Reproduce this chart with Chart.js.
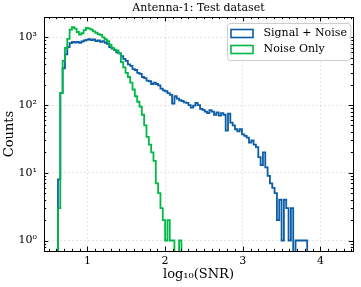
<!DOCTYPE html>
<html>
<head>
<meta charset="utf-8">
<script src="https://cdn.jsdelivr.net/npm/chart.js@4.4.0/dist/chart.umd.min.js"></script>
<style>
  html, body { margin: 0; padding: 0; background: #fff; }
</style>
</head>
<body>
<canvas id="snrChart" width="361" height="287"></canvas>
<script>
// histogram bins in log10(SNR): left edge of the first bin and bin width
const binStart = 0.62;
const binWidth = 0.03;

// counts per bin
const signalNoiseCounts = [
  8, 150, 350, 560, 720, 820, 860, 840, 860, 830,
  870, 900, 920, 940, 910, 930, 880, 900, 860, 880,
  830, 800, 720, 680, 650, 600, 580, 530, 480, 450,
  400, 380, 340, 330, 300, 290, 260, 250, 230, 225,
  205, 215, 205, 195, 175, 165, 160, 150, 142, 105,
  135, 125, 118, 115, 110, 108, 100, 92, 98, 108,
  100, 88, 85, 80, 76, 84, 80, 72, 78, 70,
  76, 72, 42, 75, 55, 50, 44, 41, 44, 37,
  35, 33, 28, 30, 26, 24, 17, 13, 20, 12,
  9, 7, 6, 5, 2, 4, 1, 4, 3, 1,
  3, 0, 1, 1, 1, 1, 1
];
const noiseOnlyCounts = [
  3, 150, 450, 700, 950, 1300, 1420, 1350, 1200, 1100,
  1150, 1280, 1380, 1350, 1300, 1230, 1170, 1120, 1090, 1000,
  940, 880, 780, 700, 660, 640, 580, 430, 360, 300,
  260, 215, 170, 135, 112, 95, 72, 50, 34, 26,
  20, 15, 7, 5, 3, 2, 1, 2, 1, 1,
  0, 0, 1
];

const xTicks = [1, 2, 3, 4];
const yTicks = [1, 10, 100, 1000];
const yTickLabels = ["10⁰", "10¹", "10²", "10³"];

const serif = { family: "'DejaVu Serif', serif", size: 11, weight: "normal" };
const serifLabel = { family: "'DejaVu Serif', serif", size: 13, weight: "normal" };
const zeroFloor = 0.1; // empty bins sit below the visible range

// turn counts into the outline of a step histogram
function stepOutline(counts) {
  const pts = [{ x: binStart, y: zeroFloor }];
  counts.forEach((c, i) => {
    pts.push({ x: binStart + i * binWidth, y: c > 0 ? c : zeroFloor });
  });
  const end = binStart + counts.length * binWidth;
  const last = counts[counts.length - 1];
  pts.push({ x: end, y: last > 0 ? last : zeroFloor });
  pts.push({ x: end, y: zeroFloor });
  return pts;
}

// inward ticks on all four sides plus the black frame
const axisFrame = {
  id: "axisFrame",
  afterDatasetsDraw(chart) {
    const { ctx, chartArea: a, scales: { x, y } } = chart;
    const snap = p => Math.round(p) + 0.5;
    ctx.save();
    ctx.strokeStyle = "#000";
    ctx.lineWidth = 1;
    ctx.beginPath();
    const xTick = (v, len) => {
      const p = snap(x.getPixelForValue(v));
      ctx.moveTo(p, a.bottom); ctx.lineTo(p, a.bottom - len);
      ctx.moveTo(p, a.top); ctx.lineTo(p, a.top + len);
    };
    const yTick = (v, len) => {
      const p = snap(y.getPixelForValue(v));
      ctx.moveTo(a.left, p); ctx.lineTo(a.left + len, p);
      ctx.moveTo(a.right, p); ctx.lineTo(a.right - len, p);
    };
    xTicks.forEach(v => xTick(v, 4.3));
    for (let k = Math.ceil(x.min * 10); k <= Math.floor(x.max * 10); k++) {
      if (k % 10 !== 0) xTick(k / 10, 2.2);
    }
    yTicks.forEach(v => yTick(v, 4.3));
    for (let e = -1; e <= 3; e++) {
      for (let d = 2; d <= 9; d++) {
        const v = d * Math.pow(10, e);
        if (v > y.min && v < y.max) yTick(v, 2.2);
      }
    }
    ctx.stroke();
    ctx.strokeRect(snap(a.left), snap(a.top), Math.round(a.width), Math.round(a.height));
    ctx.restore();
  }
};

// legend box in the upper right corner of the plot
const insideLegend = {
  id: "insideLegend",
  afterDraw(chart) {
    const { ctx, chartArea: a } = chart;
    const sets = chart.data.datasets;
    ctx.save();
    ctx.font = "11px 'DejaVu Serif', serif";
    const textW = Math.max(...sets.map(d => ctx.measureText(d.label).width));
    const w = 3 + 23 + 10 + textW + 4;
    const h = 37;
    const left = Math.round(a.right - 3 - w) + 0.5;
    const top = Math.round(a.top + 6) + 0.5;
    ctx.beginPath();
    if (ctx.roundRect) ctx.roundRect(left, top, w, h, 3);
    else ctx.rect(left, top, w, h);
    ctx.fillStyle = "rgba(255,255,255,0.8)";
    ctx.fill();
    ctx.strokeStyle = "#cccccc";
    ctx.lineWidth = 1;
    ctx.stroke();
    sets.forEach((d, i) => {
      const cy = top + 10 + i * 16;
      ctx.strokeStyle = d.borderColor;
      ctx.lineWidth = 1.6;
      ctx.strokeRect(left + 3.5, cy - 4, 22, 8);
      ctx.fillStyle = "#000";
      ctx.textBaseline = "middle";
      ctx.fillText(d.label, left + 36, cy);
    });
    ctx.restore();
  }
};

new Chart(document.getElementById("snrChart"), {
  type: "line",
  data: {
    datasets: [
      {
        label: "Signal + Noise",
        data: stepOutline(signalNoiseCounts),
        borderColor: "#0C5DA5",
        borderWidth: 1.8,
        stepped: "before",
        pointRadius: 0,
        fill: false,
        order: 1
      },
      {
        label: "Noise Only",
        data: stepOutline(noiseOnlyCounts),
        borderColor: "#00B945",
        borderWidth: 1.8,
        stepped: "before",
        pointRadius: 0,
        fill: false,
        order: 0
      }
    ]
  },
  options: {
    responsive: false,
    animation: false,
    devicePixelRatio: 1,
    layout: { padding: { top: 0, right: 8, bottom: 0, left: 0 } },
    scales: {
      x: {
        type: "linear",
        min: 0.44,
        max: 4.42,
        afterBuildTicks: s => { s.ticks = xTicks.map(v => ({ value: v })); },
        afterFit: s => { s.height = 36; },
        ticks: { font: serif, color: "#000", padding: 4, maxRotation: 0, callback: v => String(v) },
        grid: { drawTicks: false, color: "rgba(0,0,0,0.12)", lineWidth: 0.8 },
        border: { display: false, dash: [2, 2] },
        title: { display: true, text: "log₁₀(SNR)", font: serifLabel, color: "#000", padding: { top: 0, bottom: 5 } }
      },
      y: {
        type: "logarithmic",
        min: 0.71,
        max: 2000,
        afterBuildTicks: s => { s.ticks = yTicks.map(v => ({ value: v })); },
        afterFit: s => { s.width = 44; },
        ticks: { font: serif, color: "#000", padding: 7, callback: v => yTickLabels[yTicks.indexOf(v)] },
        grid: { drawTicks: false, color: "rgba(0,0,0,0.12)", lineWidth: 0.8 },
        border: { display: false, dash: [2, 2] },
        title: { display: true, text: "Counts", font: serifLabel, color: "#000", padding: { top: 2, bottom: 0 } }
      }
    },
    plugins: {
      legend: { display: false },
      tooltip: { enabled: false },
      title: {
        display: true,
        fullSize: false,
        text: "Antenna-1: Test dataset",
        font: serif,
        color: "#000",
        padding: { top: 1.5, bottom: 2.3 }
      }
    }
  },
  plugins: [axisFrame, insideLegend]
});
</script>
</body>
</html>
